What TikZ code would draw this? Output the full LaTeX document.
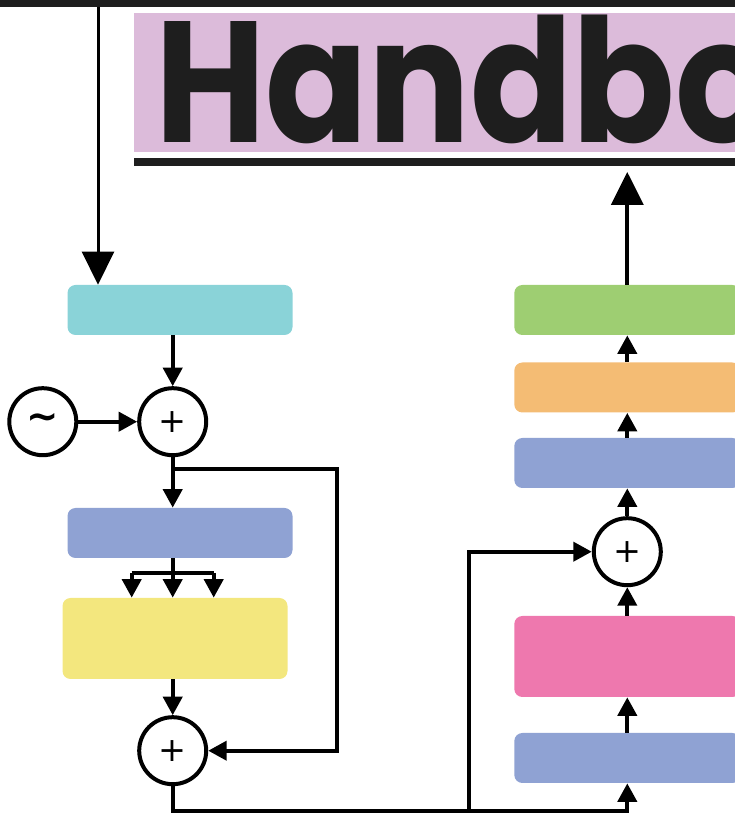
\documentclass[tikz,border=0pt]{standalone}
\usepackage{fontspec}
\usepackage{tikz}
\usetikzlibrary{arrows.meta,positioning,calc}
\newfontfamily\titlefont{Poppins}
\newfontfamily\signfont{DejaVu Sans}

\definecolor{barblack}{HTML}{1E1E1E}
\definecolor{titlepurple}{HTML}{DCBBDA}
\definecolor{embcyan}{HTML}{8AD3D8}
\definecolor{normblue}{HTML}{8FA2D3}
\definecolor{attnyellow}{HTML}{F3E77E}
\definecolor{ffnpink}{HTML}{EE78AE}
\definecolor{outorange}{HTML}{F4BC74}
\definecolor{outgreen}{HTML}{9ECE72}

\newlength\titlewd
\newlength\titleht
\AtBeginDocument{%
  \settowidth\titlewd{\titlefont\bfseries Handb}%
  \settoheight\titleht{\titlefont\bfseries H}}

\tikzset{
  block/.style={rounded corners=0.16cm, minimum width=4.5cm, minimum height=1.0cm, inner sep=0pt},
  tallblock/.style={block, minimum height=1.62cm},
  sumnode/.style={circle, draw, line width=0.08cm, minimum size=1.34cm, inner sep=0pt, font=\signfont\fontsize{19}{19}\selectfont},
  line/.style={line width=0.08cm},
  arrow/.style={line, -{Triangle[length=0.37cm,width=0.38cm]}},
  bigarrow/.style={line width=0.06cm, -{Triangle[length=0.66cm,width=0.64cm]}}
}

\begin{document}
\begin{tikzpicture}
  \useasboundingbox (0,0) rectangle (14.7,16.36);
  \clip (0,0) rectangle (14.7,16.36);

  %% Title band
  \fill[barblack] (0,16.22) rectangle (14.8,16.5);
  \fill[titlepurple] (2.68,13.32) rectangle (14.8,16.10);
  \fill[barblack] (2.68,13.04) rectangle (14.8,13.20);
  \node[anchor=base west, inner sep=0pt, text=barblack] (title) at (3.10,13.5)
    {\scalebox{\fpeval{10.4cm/(\the\titlewd)}}[\fpeval{2.42cm/(\the\titleht)}]{\titlefont\bfseries Handbo}};

  %% Left stack
  \node[block, fill=embcyan] (embed) at (3.60,10.16) {};
  \node[sumnode] (sumA) at (3.454,7.926) {+};
  \node[sumnode, font=\signfont\bfseries\fontsize{22}{22}\selectfont] (noise) at (0.856,7.926) {\char"007E};
  \node[block, fill=normblue] (normA) at (3.60,5.70) {};
  \node[tallblock, fill=attnyellow] (attn) at (3.50,3.59) {};
  \node[sumnode] (sumB) at (3.454,1.346) {+};

  %% Right stack
  \node[block, minimum width=4.52cm, fill=normblue] (normB) at (12.546,1.20) {};
  \node[tallblock, minimum width=4.52cm, fill=ffnpink] (ffn) at (12.546,3.23) {};
  \node[sumnode] (sumC) at (12.546,5.326) {+};
  \node[block, minimum width=4.52cm, fill=normblue] (normC) at (12.546,7.10) {};
  \node[block, minimum width=4.52cm, fill=outorange] (proj) at (12.546,8.61) {};
  \node[block, minimum width=4.52cm, fill=outgreen] (head) at (12.546,10.16) {};

  \coordinate (input) at (1.96,16.22);
  \coordinate (output) at (12.546,12.92);
  \coordinate (splitA) at (3.454,6.98);
  \coordinate (turnA) at (6.734,6.98);
  \coordinate (fork) at (3.454,4.90);
  \coordinate (low) at (3.454,0.15);
  \coordinate (splitC) at (9.386,0.15);

  %% Input and output
  \draw[bigarrow] (input) -- (input |- embed.north);
  \draw[bigarrow, line width=0.08cm] (head.north) -- (output);

  %% Left connections
  \draw[arrow] (embed.south -| sumA) -- (sumA);
  \draw[arrow] (noise) -- (sumA);
  \draw[arrow] (sumA) -- (normA.north -| sumA);
  \draw[arrow] (splitA) -- (turnA) |- (sumB.east);
  \draw[line] (normA.south -| fork) -- (fork);
  \draw[line] ([xshift=-0.82cm]fork) -- ([xshift=0.82cm]fork);
  \foreach \dx in {-0.82,0,0.82}
    \draw[arrow] ([xshift=\dx cm]fork) -- ([xshift=\dx cm]attn.north -| fork);
  \draw[arrow] (attn.south -| sumB) -- (sumB);

  %% Crossing to the right stack
  \draw[arrow] (sumB) -- (low) -| (normB.south);
  \draw[arrow] (splitC) |- (sumC.west);

  %% Right connections
  \draw[arrow] (normB) -- (ffn);
  \draw[arrow] (ffn) -- (sumC);
  \draw[arrow] (sumC) -- (normC);
  \draw[arrow] (normC) -- (proj);
  \draw[arrow] (proj) -- (head);
\end{tikzpicture}
\end{document}
